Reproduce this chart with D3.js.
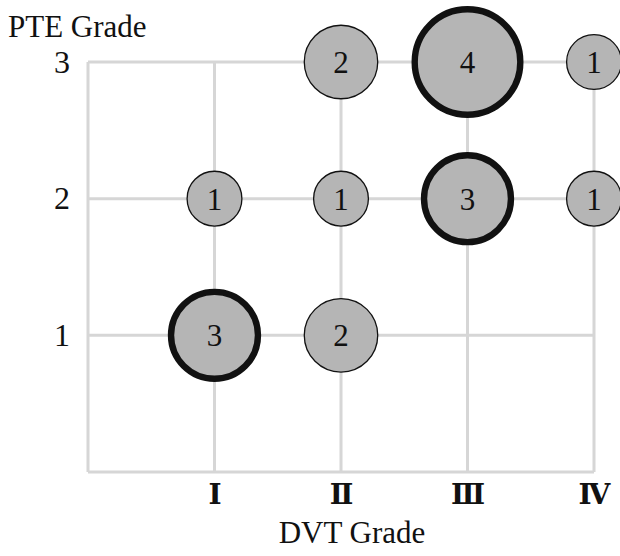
<!DOCTYPE html>
<html>
<head>
<meta charset="utf-8">
<script src="https://cdn.jsdelivr.net/npm/d3@7"></script>
<style>
  body { margin: 0; background: #fff; }
  text { font-family: "Liberation Serif", "DejaVu Serif", serif; fill: #111; }
</style>
</head>
<body>
<script>
// chart size and plot frame
var w = 620;
var h = 556;
var margin = {left: 88, right: 22, top: 62, bottom: 84};

// data: one bubble per (DVT grade, PTE grade) cell
var dvtGrades = [1, 2, 3, 4];
var dvtLabels = ["\u2160", "\u2161", "\u2162", "\u2163"];
var pteGrades = [1, 2, 3];

var cellDvt   = [1, 2, 1, 2, 3, 4, 2, 3, 4];
var cellPte   = [1, 1, 2, 2, 2, 2, 3, 3, 3];
var cellCount = [3, 2, 1, 1, 3, 1, 2, 4, 1];
var cellBold  = [true, false, false, false, true, false, false, true, false];

var cells = cellCount.map(function(c, i) {
  return {dvt: cellDvt[i], pte: cellPte[i], n: c, bold: cellBold[i]};
});

// scales
var xScale = d3.scaleLinear()
    .domain([0, 4])
    .range([margin.left, w - margin.right - 4]);

var yScale = d3.scaleLinear()
    .domain([0, 3])
    .range([h - margin.bottom, margin.top]);

var rScale = d3.scaleLinear()   // outer radius of the bubble
    .domain([1, 4])
    .range([28, 56]);

var svg = d3.select("body")
    .append("svg")
    .attr("width", w)
    .attr("height", h);

// grid
var grid = svg.append("g").attr("stroke", "#d6d6d6").attr("stroke-width", 3);

grid.selectAll("line.v")
    .data([0].concat(dvtGrades))
    .enter()
    .append("line")
    .attr("x1", function(d) { return xScale(d); })
    .attr("x2", function(d) { return xScale(d); })
    .attr("y1", yScale(0))
    .attr("y2", yScale(3));

grid.selectAll("line.h")
    .data([0].concat(pteGrades))
    .enter()
    .append("line")
    .attr("y1", function(d) { return yScale(d); })
    .attr("y2", function(d) { return yScale(d); })
    .attr("x1", xScale(0))
    .attr("x2", xScale(4));

// axes (labels only, no lines)
var xAxis = d3.axisBottom(xScale)
    .tickValues(dvtGrades)
    .tickFormat(function(d) { return dvtLabels[d - 1]; })
    .tickSize(0)
    .tickPadding(12);

var yAxis = d3.axisLeft(yScale)
    .tickValues(pteGrades)
    .tickFormat(d3.format("d"))
    .tickSize(0)
    .tickPadding(18);

var gx = svg.append("g")
    .attr("transform", "translate(0," + yScale(0) + ")")
    .call(xAxis);
gx.select(".domain").remove();
gx.selectAll("text")
    .attr("font-family", "'Noto Sans CJK JP', 'DejaVu Serif', serif")
    .attr("font-size", 28)
    .attr("font-weight", "bold")
    .attr("fill", "#111");

var gy = svg.append("g")
    .attr("transform", "translate(" + xScale(0) + ",0)")
    .call(yAxis);
gy.select(".domain").remove();
gy.selectAll("text")
    .attr("font-family", "'Liberation Serif', serif")
    .attr("font-size", 32)
    .attr("fill", "#111");

// bubbles
var bubble = svg.selectAll("g.cell")
    .data(cells)
    .enter()
    .append("g")
    .attr("transform", function(d) { return "translate(" + xScale(d.dvt) + "," + yScale(d.pte) + ")"; });

bubble.append("circle")
    .attr("r", function(d) { return rScale(d.n) - (d.bold ? 3.2 : 0.6); })
    .attr("fill", "#b5b5b5")
    .attr("stroke", "#111")
    .attr("stroke-width", function(d) { return d.bold ? 6.4 : 1.3; });

bubble.append("text")
    .text(function(d) { return d.n; })
    .attr("text-anchor", "middle")
    .attr("dy", "0.35em")
    .attr("font-size", 31)
    .attr("fill", "#222");

// axis titles
svg.append("text")
    .text("PTE Grade")
    .attr("x", 8)
    .attr("y", 37)
    .attr("font-size", 31);

svg.append("text")
    .text("DVT Grade")
    .attr("x", 352)
    .attr("y", 543)
    .attr("text-anchor", "middle")
    .attr("font-size", 31);
</script>
</body>
</html>
